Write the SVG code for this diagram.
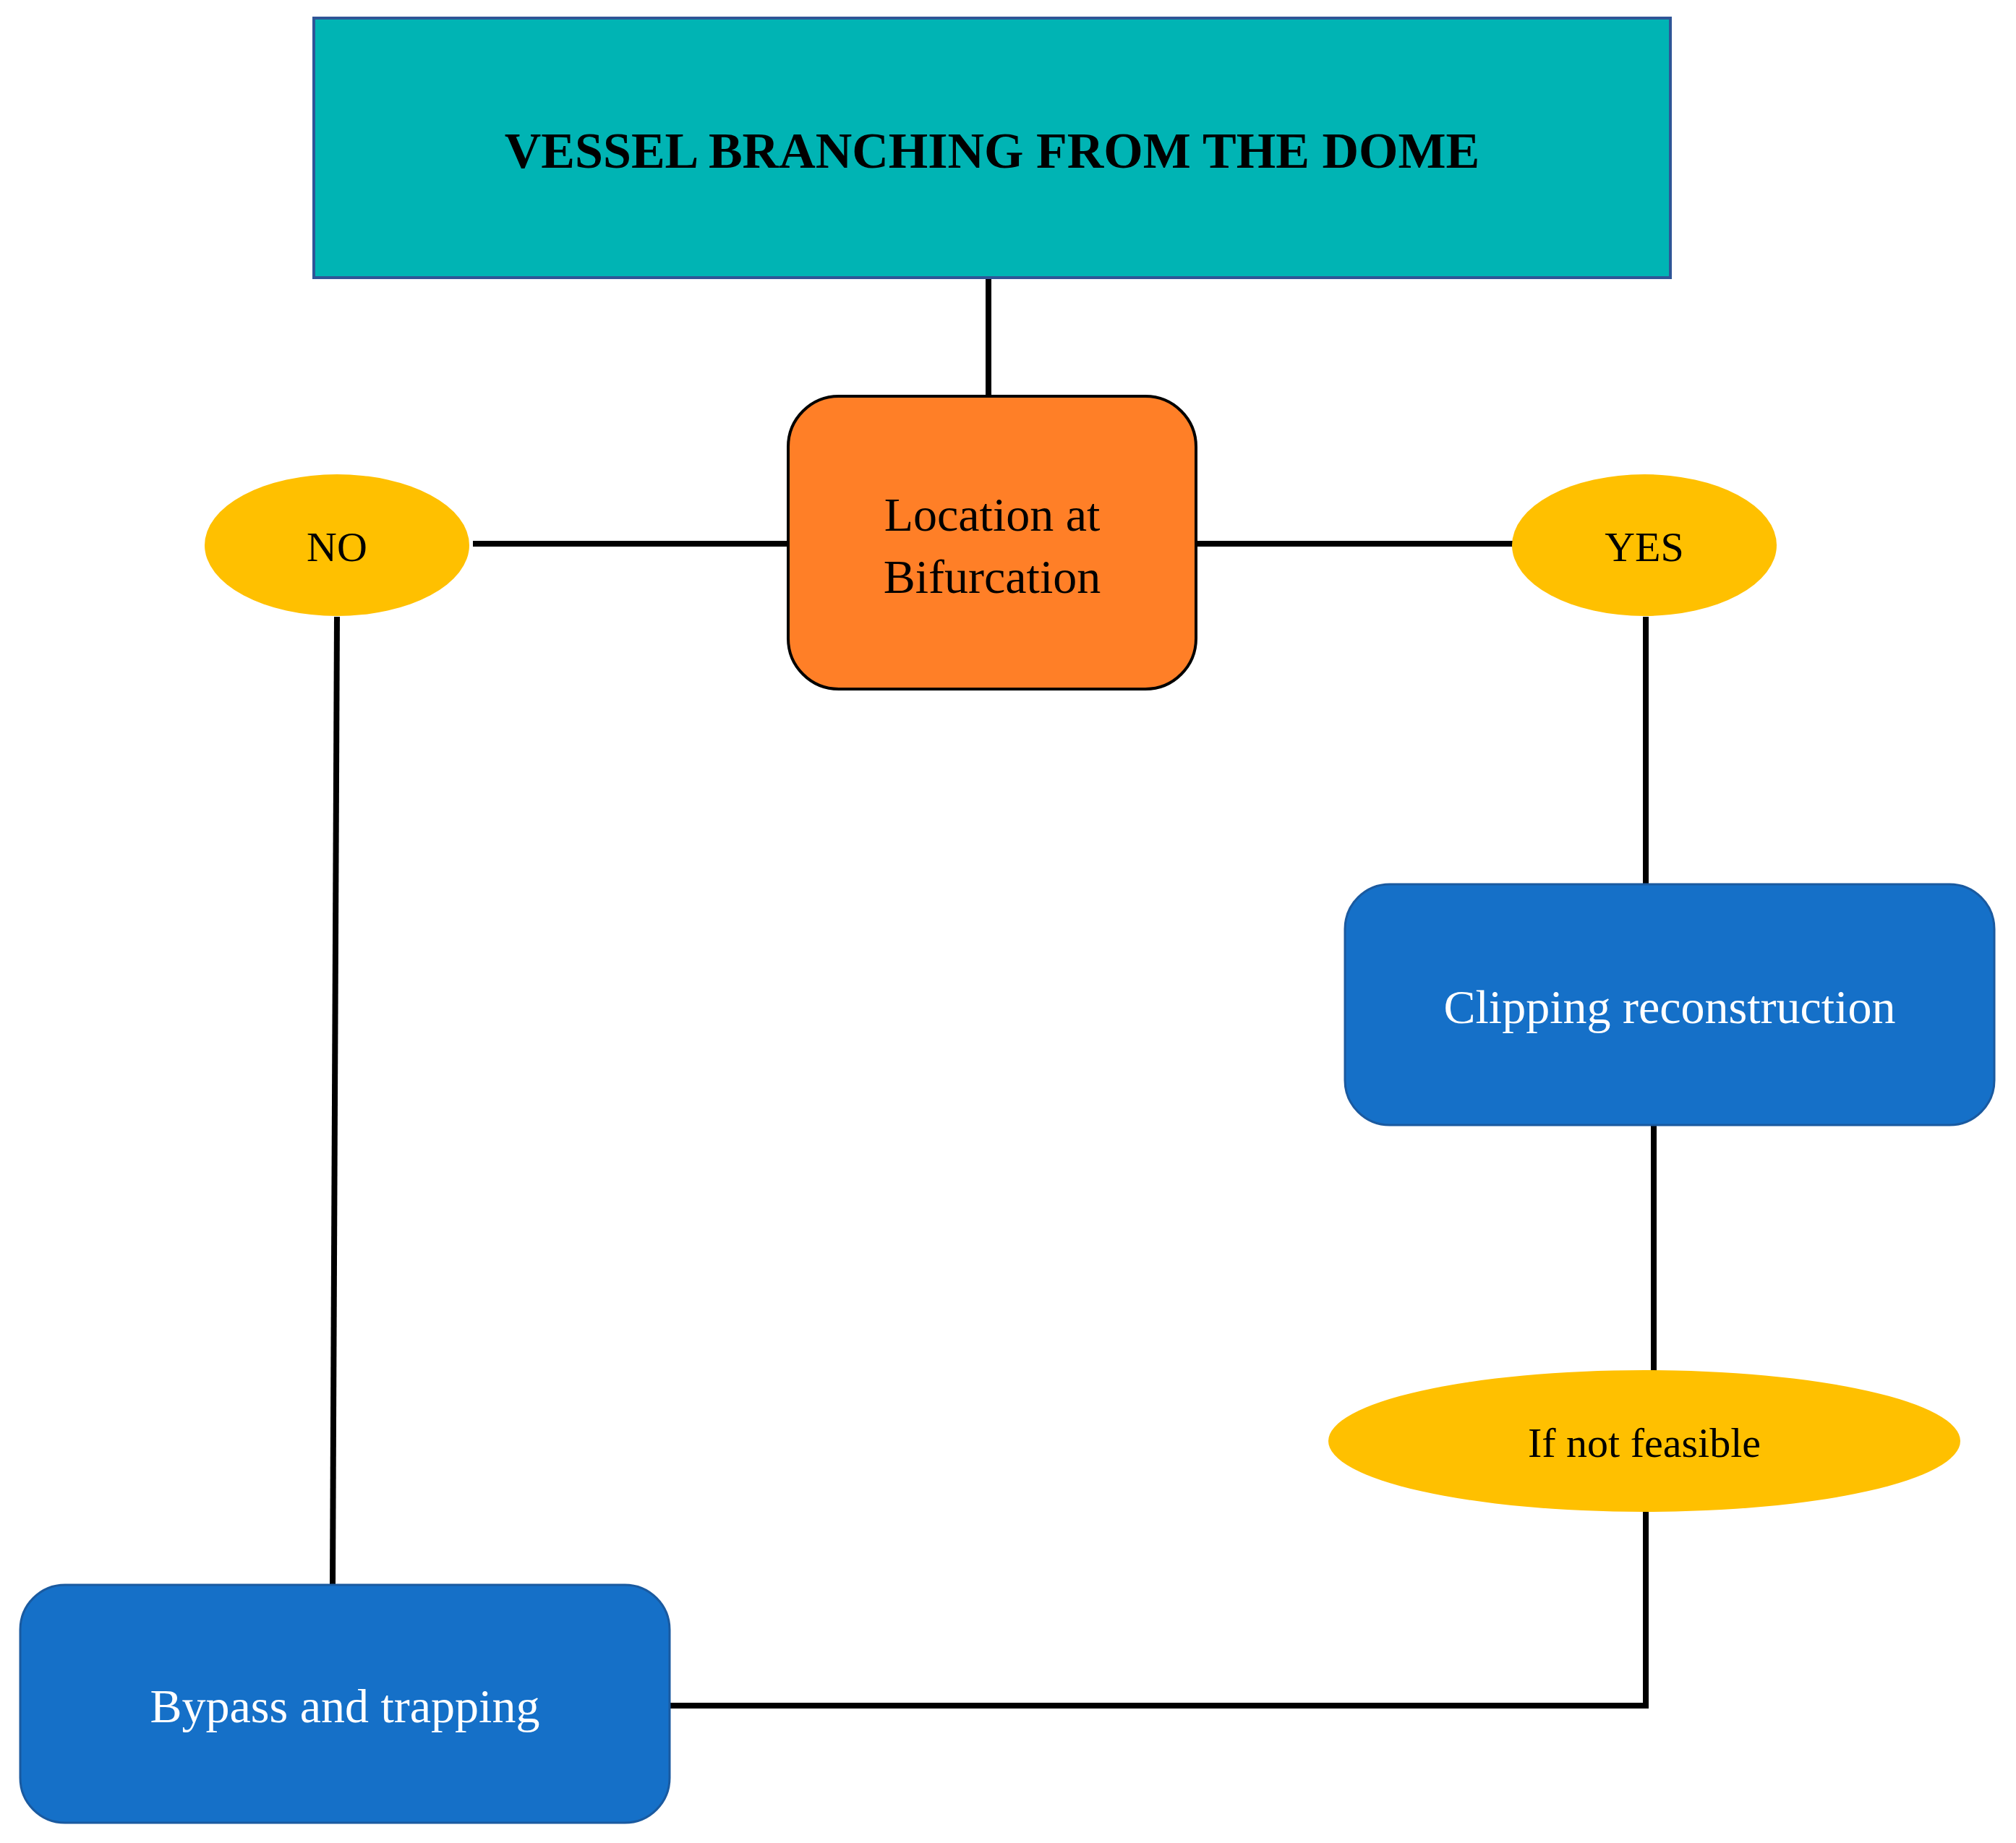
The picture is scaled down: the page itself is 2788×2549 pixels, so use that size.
<svg xmlns="http://www.w3.org/2000/svg" width="2788" height="2549" viewBox="0 0 2788 2549">
<style>
text{font-family:"Liberation Serif","Times New Roman",serif;text-anchor:middle;dominant-baseline:central}
.c{stroke:#000;stroke-width:8;fill:none}
.y{fill:#FFC000}
.b{fill:#1570C8;stroke:#1A5AA0;stroke-width:3}
.w{fill:#fff;font-size:66px}
.k{fill:#000;font-size:58px}
</style>
<rect width="2788" height="2549" fill="#fff"/>
<g id="connectors">
<line class="c" x1="1367" y1="384" x2="1367" y2="548"/>
<line class="c" x1="654" y1="752" x2="1090" y2="752"/>
<line class="c" x1="1654" y1="752" x2="2094" y2="752"/>
<line class="c" x1="2276" y1="853" x2="2276" y2="1223"/>
<line class="c" x1="2287" y1="1556" x2="2287" y2="1899"/>
<polyline class="c" points="2276,2089 2276,2359 926,2359"/>
<line class="c" x1="466" y1="853" x2="460" y2="2192"/>
</g>
<g id="title"><rect x="434" y="25" width="1876" height="359" fill="#00B4B4" stroke="#2F5597" stroke-width="4"/>
<text x="1372" y="208" font-size="70" font-weight="bold">VESSEL BRANCHING FROM THE DOME</text></g>
<g id="location"><rect x="1090" y="548" width="564" height="405" rx="70" fill="#FF7F27" stroke="#000" stroke-width="4"/>
<text x="1372" y="711" font-size="66">Location at</text><text x="1372" y="797" font-size="66">Bifurcation</text></g>
<g id="no"><ellipse class="y" cx="466" cy="754" rx="183" ry="98"/><text class="k" x="466" y="756">NO</text></g>
<g id="yes"><ellipse class="y" cx="2274" cy="754" rx="183" ry="98"/><text class="k" x="2274" y="756">YES</text></g>
<g id="clipping"><rect class="b" x="1860" y="1223" width="898" height="333" rx="62"/><text class="w" x="2309" y="1392">Clipping reconstruction</text></g>
<g id="notfeasible"><ellipse class="y" cx="2274" cy="1993" rx="437" ry="98"/><text class="k" x="2274" y="1995">If not feasible</text></g>
<g id="bypass"><rect class="b" x="28" y="2192" width="898" height="329" rx="62"/><text class="w" x="477" y="2359">Bypass and trapping</text></g>
</svg>
